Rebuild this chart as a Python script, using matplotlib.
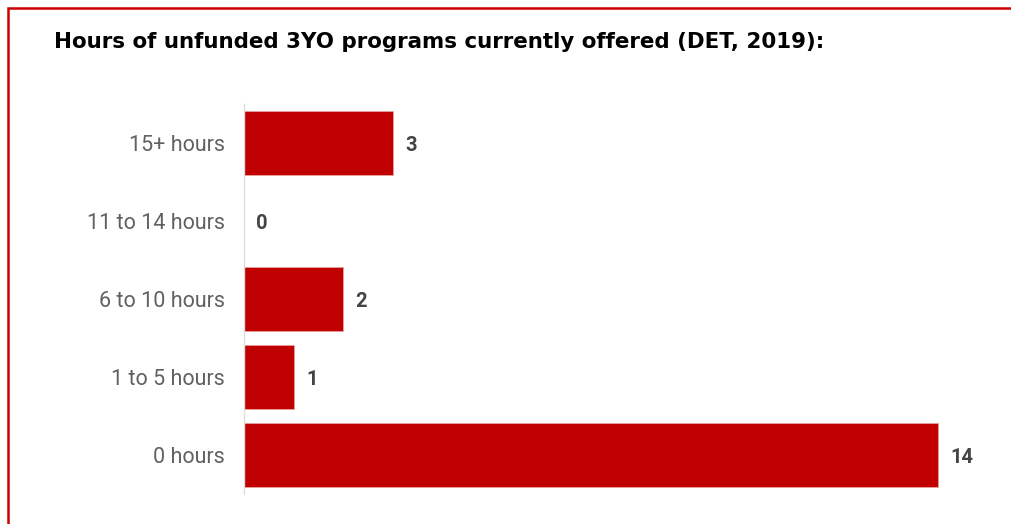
import matplotlib.pyplot as plt
from matplotlib.patches import Rectangle

# Data
categories = ['0 hours', '1 to 5 hours', '6 to 10 hours', '11 to 14 hours', '15+ hours']
programs = [14, 1, 2, 0, 3]
title = 'Hours of unfunded 3YO programs currently offered (DET, 2019):'

plt.rcParams['font.family'] = ['Roboto', 'DejaVu Sans']

fig = plt.figure(figsize=(10.12, 5.24), dpi=100)
W, H = 1012, 524

# axes placed in pixel terms: left 244, right 988, top 104, bottom 494
ax = fig.add_axes([244 / W, 1 - 494 / H, (988 - 244) / W, (494 - 104) / H])

ypos = range(len(categories))
ax.barh(ypos, programs, height=0.81, color='#c00000', edgecolor='#e8a0a0', linewidth=0.6)

for y, v in zip(ypos, programs):
    ax.text(v + 0.25, y - 0.03, str(v), va='center', ha='left', fontsize=14.5,
            fontweight='bold', color='#444444')

ax.set_xlim(0, 15)
ax.set_ylim(-0.5, 4.5)
ax.set_yticks(list(ypos))
ax.set_yticklabels(categories, fontsize=15.5, color='#616161')
ax.set_xticks([])
ax.tick_params(axis='y', length=0, pad=13.5)
for side in ['top', 'right', 'bottom']:
    ax.spines[side].set_visible(False)
ax.spines['left'].set_color('#dddddd')
ax.spines['left'].set_linewidth(1)

fig.text(54 / W, 1 - 48 / H, title, fontsize=15.4, fontweight='bold',
         family='DejaVu Sans', color='black', va='baseline', ha='left')

# red frame around the chart (left and top edges visible)
fig.patches.append(Rectangle((8 / W, -0.05), 1.2, 1 - 8 / H + 0.05, transform=fig.transFigure,
                             fill=False, edgecolor='#cc0000', linewidth=1.8))

fig.savefig('out.png', dpi=100)
